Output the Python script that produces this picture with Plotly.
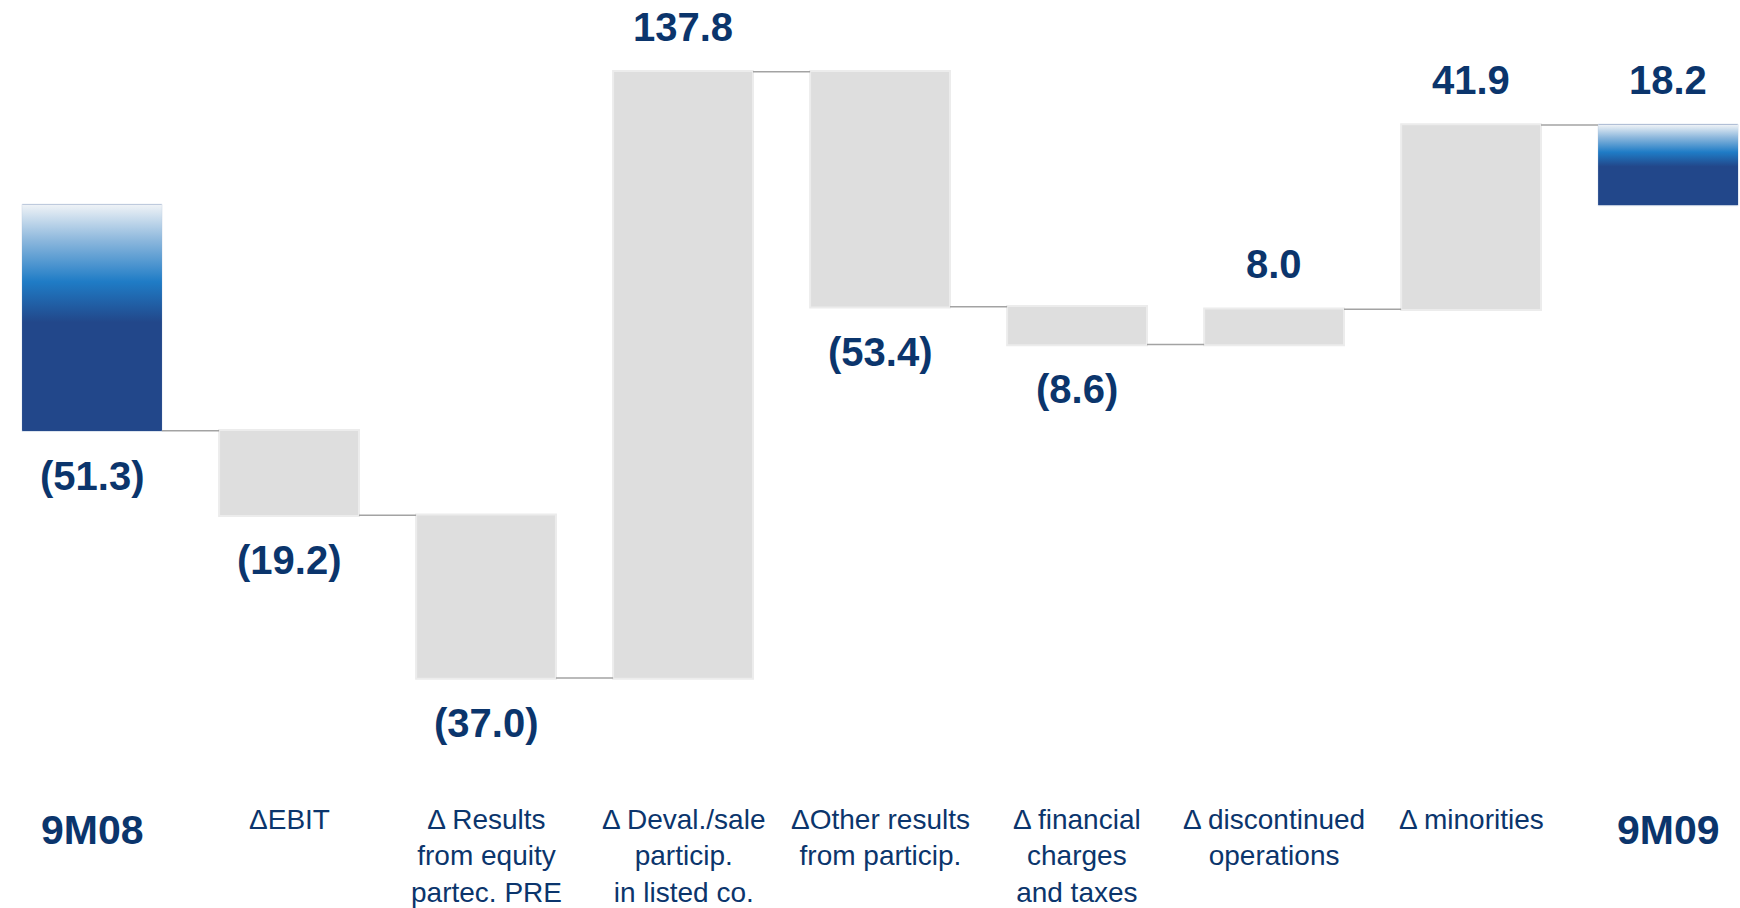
import plotly.graph_objects as go

# ---- data ----
categories = ["9M08", "ΔEBIT", "Δ Results<br>from equity<br>partec. PRE",
              "Δ Deval./sale<br>particip.<br>in listed co.",
              "ΔOther results<br>from particip.",
              "Δ financial<br>charges<br>and taxes",
              "Δ discontinued<br>operations", "Δ minorities", "9M09"]
values = [-51.3, -19.2, -37.0, 137.8, -53.4, -8.6, 8.0, 41.9, 18.2]
measures = ["absolute"] + ["relative"] * 7 + ["total"]

NAVY = "#0b356c"
FONT = "Liberation Sans, Arial"
GAP = 0.29
x_idx = list(range(len(categories)))

fig = go.Figure()
fig.add_trace(go.Waterfall(
    x=x_idx, y=values, measure=measures,
    increasing=dict(marker=dict(color="#dedede", line=dict(color="#ececec", width=2))),
    decreasing=dict(marker=dict(color="#dedede", line=dict(color="#ececec", width=2))),
    totals=dict(marker=dict(color="#23488a", line=dict(color="#dfe6ef", width=1))),
    connector=dict(line=dict(color="#a3a3a3", width=1.5)),
    textinfo="none", hoverinfo="skip", showlegend=False,
))

# gradient overlay for the two total bars (start / end), spanning 0 -> value
bw = 1 - GAP
blue_scale = [[0.0, "#22478a"], [0.48, "#22478a"], [0.66, "#1f7cc6"],
              [0.84, "#8ab6dc"], [1.0, "#eef2f6"]]
for i, m in enumerate(measures):
    if m in ("absolute", "total"):
        v = values[i]
        fig.add_trace(go.Scatter(
            x=[i - bw / 2, i + bw / 2, i + bw / 2, i - bw / 2, i - bw / 2],
            y=[0, 0, v, v, 0], mode="lines", fill="toself",
            line=dict(width=0, color="rgba(0,0,0,0)"),
            fillgradient=dict(type="vertical", colorscale=blue_scale),
            hoverinfo="skip", showlegend=False,
        ))

# value labels at the end of each bar
cum = 0.0
for i, (v, m) in enumerate(zip(values, measures)):
    if m == "total":
        end = v
    else:
        cum += v
        end = cum
    txt = f"({abs(v):.1f})" if v < 0 else f"{v:.1f}"
    fig.add_annotation(x=i, y=end, text=f"<b>{txt}</b>", showarrow=False,
                       yshift=(-45 if v < 0 else 45), yanchor="middle",
                       font=dict(family=FONT, size=40, color=NAVY))

# category labels
for i, c in enumerate(categories):
    if i in (0, len(categories) - 1):
        fig.add_annotation(x=i, y=1 - 830 / 908, yref="paper", text=f"<b>{c}</b>",
                           showarrow=False, yanchor="middle", align="center",
                           font=dict(family=FONT, size=41, color=NAVY))
    else:
        fig.add_annotation(x=i, y=1 - 802 / 908, yref="paper", text=c,
                           showarrow=False, yanchor="top", align="center",
                           font=dict(family=FONT, size=28, color=NAVY))

zero_px, px_per_unit, H = 205, 4.4, 908
fig.update_layout(
    width=1740, height=H,
    margin=dict(l=0, r=0, t=0, b=0),
    paper_bgcolor="white", plot_bgcolor="white",
    waterfallgap=GAP,
    xaxis=dict(range=[-0.467, 8.365], visible=False),
    yaxis=dict(range=[-(H - zero_px) / px_per_unit, zero_px / px_per_unit], visible=False),
)

fig.write_html("out.html", config={"displayModeBar": False},
               post_script="document.body.style.margin='0';")
